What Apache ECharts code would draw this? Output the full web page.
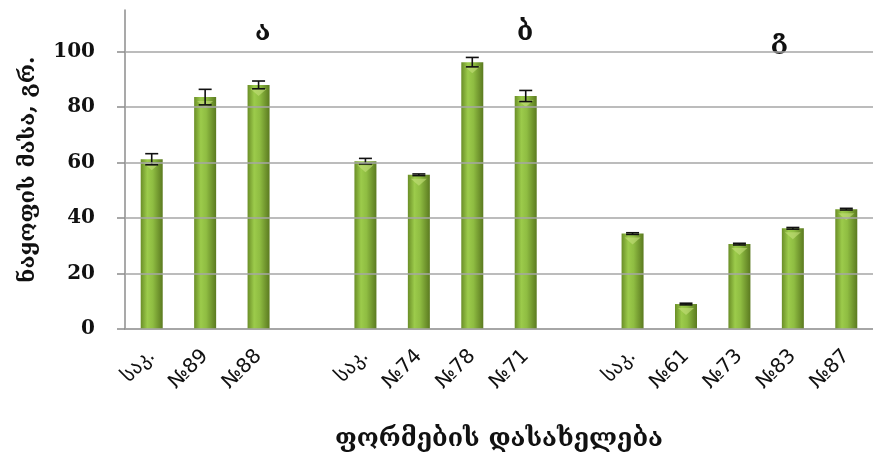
<!DOCTYPE html>
<html>
<head>
<meta charset="utf-8">
<script src="https://cdn.jsdelivr.net/npm/echarts@6/dist/echarts.min.js"></script>
<style>
  html, body { margin: 0; padding: 0; background: #fff; }
  #chart { width: 873px; height: 458px; }
</style>
</head>
<body>
<div id="chart"></div>
<script>
// Fruit mass by form, three groups separated by empty slots
const groupA = ['საკ.', '№89', '№88'];
const groupB = ['საკ.', '№74', '№78', '№71'];
const groupC = ['საკ.', '№61', '№73', '№83', '№87'];

const massA = [61.2, 83.6, 88.0];
const massB = [60.5, 55.6, 96.2, 84.0];
const massC = [34.4, 9.0, 30.6, 36.3, 43.2];

const errA = [2.0, 2.8, 1.4];
const errB = [1.0, 0.3, 1.7, 2.0];
const errC = [0.3, 0.3, 0.3, 0.3, 0.3];

const yTicks = [0, 20, 40, 60, 80, 100];
const groupNames = ['ა', 'ბ', 'გ'];

// assemble the category axis with a blank slot between groups
const categories = [...groupA, '', ...groupB, '', ...groupC];
const mass = [...massA, null, ...massB, null, ...massC];
const errs = [...errA, null, ...errB, null, ...errC];

const barGradient = new echarts.graphic.LinearGradient(0, 0, 1, 0, [
  { offset: 0, color: '#6a8e27' },
  { offset: 0.3, color: '#9ccb4b' },
  { offset: 0.55, color: '#8fbd42' },
  { offset: 1, color: '#5b7a20' }
]);

const chart = echarts.init(document.getElementById('chart'));

const serifBold = { fontFamily: 'DejaVu Serif', fontWeight: 'bold', color: '#111' };

chart.setOption({
  animation: false,
  grid: { left: 125, right: 0, top: 10, bottom: 129, outerBoundsMode: 'none', containLabel: false },
  xAxis: {
    type: 'category',
    data: categories,
    boundaryGap: true,
    axisLine: { lineStyle: { color: '#8c8c8c', width: 1.5 } },
    axisTick: { interval: 0, length: 9, lineStyle: { color: '#8c8c8c', width: 1.5 } },
    axisLabel: {
      interval: 0, rotate: 45, margin: 24,
      fontFamily: 'DejaVu Sans', fontSize: 20, color: '#111'
    },
    name: 'ფორმების დასახელება',
    nameLocation: 'middle',
    nameGap: 98,
    nameTextStyle: { ...serifBold, fontSize: 25 }
  },
  yAxis: {
    type: 'value',
    min: 0, max: 115, interval: 20,
    axisLine: { show: true, lineStyle: { color: '#8c8c8c', width: 1.5 } },
    axisTick: { show: true, length: 8, customValues: yTicks, lineStyle: { color: '#8c8c8c', width: 1.5 } },
    axisLabel: { customValues: yTicks, margin: 30, fontSize: 20, ...serifBold },
    splitLine: { show: false },
    name: 'ნაყოფის მასა, გრ.',
    nameLocation: 'middle',
    nameRotate: 90,
    nameGap: 86,
    nameTextStyle: { ...serifBold, fontSize: 22 }
  },
  graphic: [
    { type: 'text', left: 255, top: 20, style: { text: groupNames[0], font: 'bold 26px "DejaVu Serif"', fill: '#111' } },
    { type: 'text', left: 517, top: 20, style: { text: groupNames[1], font: 'bold 26px "DejaVu Serif"', fill: '#111' } },
    { type: 'text', left: 771, top: 28, style: { text: groupNames[2], font: 'bold 26px "DejaVu Serif"', fill: '#111' } }
  ],
  series: [
    {
      // horizontal gridlines behind the bars
      type: 'line',
      data: [],
      z: 0,
      silent: true,
      markLine: {
        silent: true,
        symbol: 'none',
        label: { show: false },
        lineStyle: { color: '#a6a6a6', width: 1.6, type: 'solid' },
        data: yTicks.map(v => ({ yAxis: v }))
      }
    },
    {
      type: 'bar',
      data: mass,
      barWidth: 22,
      z: 2,
      itemStyle: { color: barGradient }
    },
    {
      // light facet just under each bar top
      type: 'pictorialBar',
      data: mass,
      symbol: 'triangle',
      symbolRotate: 180,
      symbolSize: [16, 7],
      symbolPosition: 'end',
      symbolOffset: [0, 4],
      z: 3,
      itemStyle: { color: '#c4e07c', opacity: 0.6 }
    },
    {
      // error bars
      type: 'custom',
      z: 4,
      data: mass.map((v, i) => (v == null ? [i, null, null] : [i, v - errs[i], v + errs[i]])),
      renderItem: function (params, api) {
        const lo = api.value(1), hi = api.value(2);
        if (lo == null || isNaN(lo)) return null;
        const pLo = api.coord([api.value(0), lo]);
        const pHi = api.coord([api.value(0), hi]);
        const hw = 6.5;
        const style = { stroke: '#111', lineWidth: 1.6 };
        return {
          type: 'group',
          children: [
            { type: 'line', shape: { x1: pLo[0], y1: pLo[1], x2: pHi[0], y2: pHi[1] }, style },
            { type: 'line', shape: { x1: pLo[0] - hw, y1: pLo[1], x2: pLo[0] + hw, y2: pLo[1] }, style },
            { type: 'line', shape: { x1: pHi[0] - hw, y1: pHi[1], x2: pHi[0] + hw, y2: pHi[1] }, style }
          ]
        };
      }
    }
  ]
});
</script>
</body>
</html>
